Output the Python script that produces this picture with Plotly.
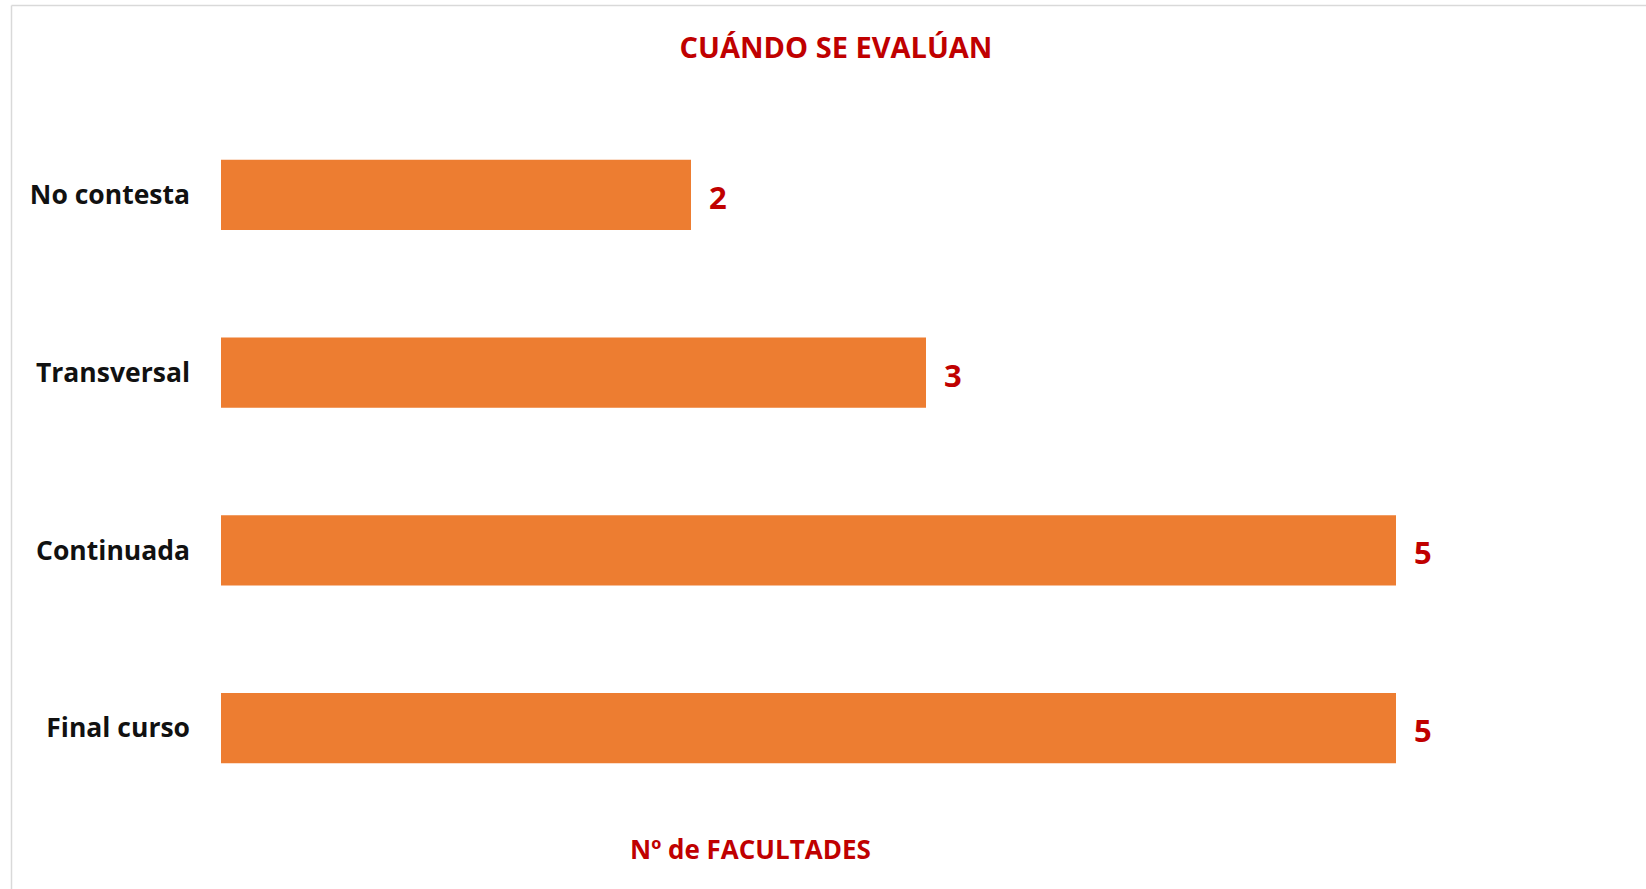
import plotly.graph_objects as go

categories = ["Final curso", "Continuada", "Transversal", "No contesta"]
values = [5, 5, 3, 2]
title_text = "CUÁNDO SE EVALÚAN"
x_title_text = "Nº de FACULTADES"

BAR = "#ED7D31"
RED = "#C00000"
FONT = "Open Sans"

W, H = 1646, 889
L, R, T, B = 221, 15, 106, 72
pw = W - L - R
ph = H - T - B

fig = go.Figure()
fig.add_trace(go.Bar(
    y=categories, x=values, orientation="h",
    marker=dict(color=BAR, line=dict(width=0)),
    hoverinfo="x+y",
))

for c, v in zip(categories, values):
    fig.add_annotation(x=v, y=c, xref="x", yref="y", text=f"<b>{v}</b>",
                       showarrow=False, xanchor="left", yanchor="middle",
                       xshift=16, yshift=-2,
                       font=dict(family=FONT, size=31, color=RED))

fig.add_annotation(x=(750 - L) / pw, y=-(849 - (H - B)) / ph, xref="paper", yref="paper",
                   text=f"<b>{x_title_text}</b>", showarrow=False,
                   xanchor="center", yanchor="middle",
                   font=dict(family=FONT, size=26, color=RED))

# chart border (left and top)
fig.add_shape(type="line", xref="paper", yref="paper",
              x0=(11.5 - L) / pw, x1=(11.5 - L) / pw,
              y0=(H - B - 5.5) / ph, y1=-(B + 10) / ph,
              line=dict(color="#D9D9D9", width=1.5))
fig.add_shape(type="line", xref="paper", yref="paper",
              x0=(11.5 - L) / pw, x1=(W + 10 - L) / pw,
              y0=(H - B - 5.5) / ph, y1=(H - B - 5.5) / ph,
              line=dict(color="#D9D9D9", width=1.5))

fig.update_layout(
    width=W, height=H,
    margin=dict(l=L, r=R, t=T, b=B, autoexpand=False),
    paper_bgcolor="white", plot_bgcolor="white",
    showlegend=False,
    bargap=0.606,
    title=dict(text=f"<b>{title_text}</b>", x=836 / W, xanchor="center",
               y=1 - 48 / H, yanchor="middle", yref="container",
               font=dict(family=FONT, size=29, color=RED)),
    xaxis=dict(range=[0, 6], showgrid=False, zeroline=False, showline=False,
               showticklabels=False, ticks=""),
    yaxis=dict(showgrid=False, zeroline=False, showline=False, ticks="",
               ticklabelstandoff=30,
               tickfont=dict(family=FONT, size=26.5, color="#111111", weight="bold")),
)

fig.write_html("out.html", config={"displayModeBar": False},
               post_script="document.body.style.margin='0';document.body.style.overflow='hidden';")
